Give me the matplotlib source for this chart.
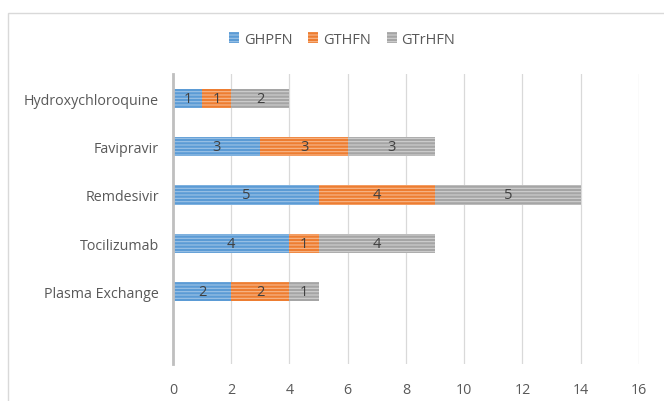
import numpy as np
import matplotlib.pyplot as plt
from matplotlib.patches import Rectangle

# categories top to bottom; last slot is left empty
drugs = ['Hydroxychloroquine', 'Favipravir', 'Remdesivir', 'Tocilizumab', 'Plasma Exchange', '']
ghpfn = [1, 3, 5, 4, 2, 0]
gthfn = [1, 3, 4, 1, 2, 0]
gtrhfn = [2, 3, 5, 4, 1, 0]

series = ['GHPFN', 'GTHFN', 'GTrHFN']
colors = ['#5B9BD5', '#ED7D31', '#A5A5A5']
stripes = ['#9DC3E6', '#F8B88B', '#D0D0D0']

plt.rcParams['font.family'] = ['Open Sans', 'DejaVu Sans']
plt.rcParams['hatch.linewidth'] = 0.8

fig = plt.figure(figsize=(6.64, 4.02), dpi=100)
ax = fig.add_axes([0.2605, 0.092, 0.7018, 0.7214])

# outer chart frame
fig.patches.append(Rectangle((8 / 664, -0.1), 1.2, 1 - 14 / 402 + 0.1,
                             transform=fig.transFigure, fill=False,
                             edgecolor='#D9D9D9', linewidth=1.0))

y = np.arange(len(drugs))
left = np.zeros(len(drugs))
for vals, name, c, s in zip([ghpfn, gthfn, gtrhfn], series, colors, stripes):
    vals = np.array(vals)
    bars = ax.barh(y, vals, left=left, height=0.4, color=c, edgecolor=s,
                   hatch='-----', linewidth=0, label=name, zorder=3)
    for b, v in zip(bars, vals):
        if v > 0:
            ax.text(b.get_x() + b.get_width() / 2, b.get_y() + b.get_height() / 2,
                    str(v), ha='center', va='center', fontsize=10.5,
                    color='#404040', zorder=4)
    left += vals

ax.set_xlim(0, 16)
ax.set_xticks(range(0, 17, 2))
ax.set_ylim(len(drugs) - 0.5, -0.5)
ax.set_yticks(y)
ax.set_yticklabels(drugs)
ax.tick_params(axis='both', length=0, labelsize=10.3, labelcolor='#595959')
ax.tick_params(axis='x', pad=13)
ax.tick_params(axis='y', pad=10)

ax.grid(axis='x', color='#D9D9D9', linewidth=0.9, zorder=0)
for side in ['top', 'right', 'bottom']:
    ax.spines[side].set_visible(False)
ax.spines['left'].set_color('#BFBFBF')
ax.spines['left'].set_linewidth(2)
ax.spines['left'].set_zorder(5)

fig.legend(loc='center', bbox_to_anchor=(0.515, 0.9), ncol=3, frameon=False,
           fontsize=10.5, labelcolor='#595959', handlelength=0.7, handleheight=0.7,
           handletextpad=0.3, columnspacing=1.1)

fig.savefig('out.png', dpi=100)
